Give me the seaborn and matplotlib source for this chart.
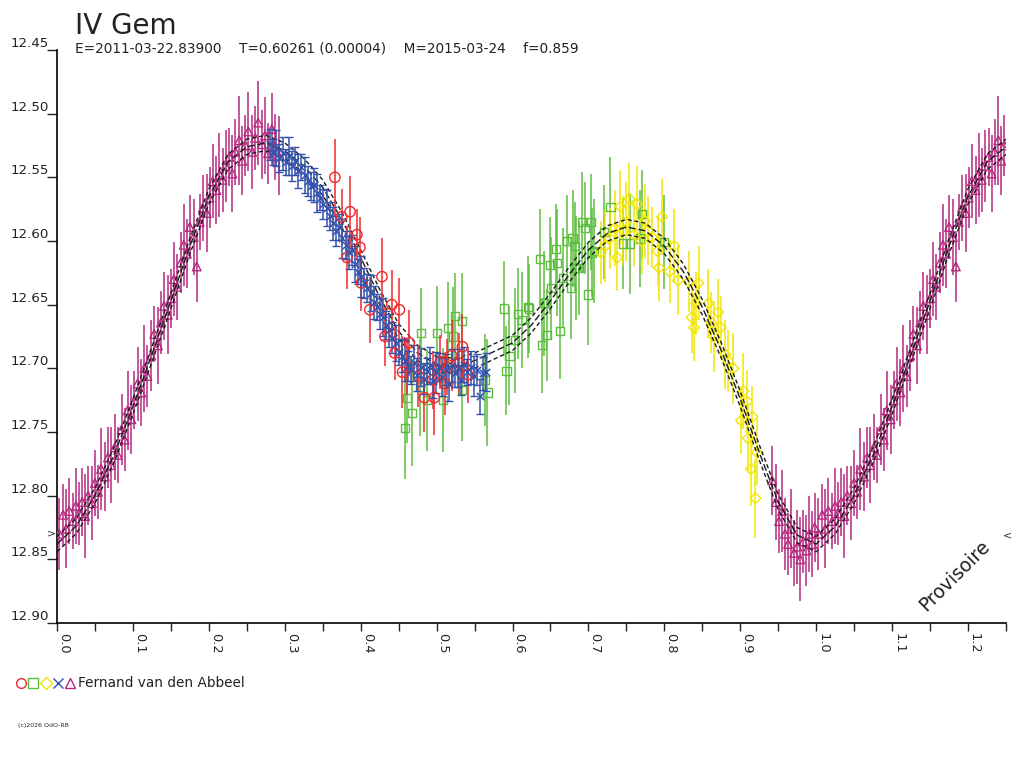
import numpy as np
import pandas as pd
import matplotlib
matplotlib.use("Agg")
import matplotlib.pyplot as plt
from matplotlib.lines import Line2D
import seaborn as sns

# light curve of IV Gem, phase vs magnitude, one observer, five sessions

title = "IV Gem"
subtitle = "E=2011-03-22.83900    T=0.60261 (0.00004)    M=2015-03-24    f=0.859"
observer = "Fernand van den Abbeel"

# session 1 - red circles
red_phase = [0.366, 0.375, 0.382, 0.386, 0.395, 0.399, 0.401, 0.412, 0.428, 0.432,
             0.441, 0.445, 0.451, 0.455, 0.461, 0.464, 0.476, 0.484, 0.495, 0.497,
             0.505, 0.511, 0.514, 0.520, 0.530, 0.534, 0.541]
red_mag = [12.550, 12.581, 12.613, 12.577, 12.595, 12.605, 12.633, 12.654, 12.628, 12.675,
           12.650, 12.688, 12.654, 12.703, 12.699, 12.680, 12.706, 12.723, 12.709, 12.723,
           12.695, 12.712, 12.699, 12.690, 12.696, 12.683, 12.705]
red_err = [0.030, 0.022, 0.025, 0.028, 0.020, 0.024, 0.022, 0.026, 0.030, 0.023,
           0.027, 0.021, 0.025, 0.028, 0.022, 0.026, 0.024, 0.027, 0.023, 0.029,
           0.021, 0.025, 0.022, 0.028, 0.024, 0.026, 0.022]

# session 2 - green squares
green_phase = [0.458, 0.461, 0.467, 0.478, 0.480, 0.487, 0.500, 0.508, 0.515, 0.521,
               0.524, 0.533, 0.534, 0.564, 0.567, 0.589, 0.592, 0.596, 0.603, 0.607,
               0.612, 0.620, 0.622, 0.636, 0.639, 0.642, 0.646, 0.649, 0.651, 0.657,
               0.659, 0.663, 0.666, 0.672, 0.677, 0.679, 0.682, 0.684, 0.687, 0.691,
               0.695, 0.699, 0.703, 0.705, 0.707, 0.720, 0.729, 0.745, 0.755, 0.768,
               0.771, 0.800]
green_mag = [12.747, 12.723, 12.735, 12.715, 12.672, 12.725, 12.672, 12.725, 12.668, 12.675,
             12.659, 12.663, 12.717, 12.709, 12.719, 12.653, 12.702, 12.690, 12.678, 12.657,
             12.662, 12.652, 12.653, 12.614, 12.682, 12.649, 12.674, 12.619, 12.637, 12.606,
             12.617, 12.671, 12.629, 12.600, 12.637, 12.598, 12.604, 12.621, 12.621, 12.585,
             12.590, 12.642, 12.585, 12.609, 12.608, 12.593, 12.573, 12.602, 12.602, 12.598,
             12.579, 12.601]
green_err = [0.040, 0.036, 0.042, 0.038, 0.035, 0.040, 0.037, 0.041, 0.036, 0.039,
             0.034, 0.038, 0.040, 0.036, 0.042, 0.037, 0.035, 0.039, 0.041, 0.036,
             0.038, 0.040, 0.035, 0.039, 0.037, 0.041, 0.036, 0.038, 0.040, 0.035,
             0.042, 0.037, 0.039, 0.036, 0.040, 0.038, 0.035, 0.041, 0.037, 0.039,
             0.036, 0.040, 0.038, 0.035, 0.041, 0.037, 0.039, 0.036, 0.040, 0.038,
             0.035, 0.037]

# session 3 - yellow diamonds
yellow_phase = [0.716, 0.722, 0.728, 0.735, 0.738, 0.742, 0.746, 0.750, 0.754, 0.760,
                0.764, 0.770, 0.774, 0.778, 0.784, 0.791, 0.793, 0.797, 0.807, 0.813,
                0.818, 0.832, 0.836, 0.839, 0.842, 0.845, 0.858, 0.862, 0.865, 0.871,
                0.874, 0.880, 0.884, 0.891, 0.901, 0.904, 0.909, 0.910, 0.914, 0.916,
                0.920, 0.922]
yellow_mag = [12.609, 12.604, 12.598, 12.590, 12.613, 12.573, 12.592, 12.585, 12.567, 12.595,
              12.571, 12.600, 12.584, 12.592, 12.597, 12.608, 12.621, 12.581, 12.624, 12.604,
              12.631, 12.632, 12.660, 12.668, 12.649, 12.633, 12.649, 12.664, 12.675, 12.656,
              12.668, 12.689, 12.694, 12.700, 12.741, 12.718, 12.726, 12.755, 12.779, 12.738,
              12.802, 12.766]
yellow_err = [0.025, 0.028, 0.024, 0.030, 0.026, 0.029, 0.027, 0.031, 0.028, 0.025,
              0.030, 0.026, 0.029, 0.027, 0.024, 0.028, 0.026, 0.030, 0.025, 0.029,
              0.027, 0.024, 0.028, 0.026, 0.025, 0.029, 0.027, 0.024, 0.028, 0.026,
              0.025, 0.027, 0.024, 0.028, 0.026, 0.030, 0.025, 0.027, 0.029, 0.024,
              0.031, 0.026]

# session 4 - blue crosses
blue_phase = [0.280, 0.285, 0.289, 0.293, 0.297, 0.301, 0.305, 0.309, 0.313, 0.318,
              0.322, 0.326, 0.330, 0.334, 0.338, 0.342, 0.346, 0.351, 0.355, 0.359,
              0.363, 0.367, 0.371, 0.375, 0.380, 0.384, 0.388, 0.392, 0.396, 0.400,
              0.404, 0.408, 0.413, 0.417, 0.421, 0.425, 0.429, 0.433, 0.437, 0.441,
              0.446, 0.450, 0.454, 0.458, 0.462, 0.466, 0.470, 0.474, 0.479, 0.483,
              0.487, 0.491, 0.495, 0.499, 0.503, 0.507, 0.512, 0.516, 0.520, 0.524,
              0.528, 0.532, 0.536, 0.540, 0.545, 0.549, 0.553, 0.557, 0.561, 0.565]
blue_mag = [12.524, 12.530, 12.527, 12.535, 12.531, 12.538, 12.533, 12.541, 12.537, 12.545,
            12.542, 12.548, 12.553, 12.557, 12.556, 12.562, 12.566, 12.571, 12.574, 12.580,
            12.586, 12.592, 12.589, 12.598, 12.603, 12.609, 12.607, 12.618, 12.624, 12.628,
            12.633, 12.637, 12.641, 12.648, 12.652, 12.657, 12.660, 12.666, 12.670, 12.676,
            12.680, 12.687, 12.690, 12.694, 12.698, 12.701, 12.696, 12.705, 12.699, 12.708,
            12.702, 12.697, 12.710, 12.703, 12.699, 12.707, 12.701, 12.712, 12.698, 12.704,
            12.700, 12.709, 12.697, 12.703, 12.699, 12.706, 12.701, 12.722, 12.704, 12.703]
blue_err = [0.012, 0.010, 0.014, 0.011, 0.013, 0.010, 0.015, 0.012, 0.011, 0.013,
            0.010, 0.014, 0.012, 0.011, 0.013, 0.015, 0.010, 0.012, 0.014, 0.011,
            0.013, 0.012, 0.010, 0.015, 0.011, 0.013, 0.012, 0.014, 0.010, 0.016,
            0.012, 0.011, 0.014, 0.013, 0.010, 0.012, 0.015, 0.011, 0.013, 0.012,
            0.014, 0.010, 0.013, 0.016, 0.012, 0.011, 0.014, 0.013, 0.015, 0.012,
            0.010, 0.014, 0.013, 0.016, 0.011, 0.015, 0.012, 0.014, 0.013, 0.011,
            0.015, 0.012, 0.014, 0.010, 0.013, 0.016, 0.012, 0.014, 0.013, 0.015]

# session 5 - magenta triangles
mag_phase = [0.003, 0.008, 0.012, 0.016, 0.021, 0.025, 0.029, 0.033, 0.037, 0.041,
             0.046, 0.050, 0.054, 0.058, 0.063, 0.067, 0.071, 0.076, 0.080, 0.085,
             0.089, 0.093, 0.098, 0.102, 0.106, 0.111, 0.115, 0.119, 0.124, 0.128,
             0.133, 0.137, 0.141, 0.146, 0.150, 0.154, 0.158, 0.163, 0.167, 0.171,
             0.175, 0.180, 0.184, 0.188, 0.192, 0.197, 0.201, 0.205, 0.210, 0.214,
             0.218, 0.222, 0.227, 0.231, 0.235, 0.240, 0.244, 0.248, 0.252, 0.257,
             0.261, 0.265, 0.270, 0.274, 0.278, 0.283, 0.287, 0.292,
             0.942, 0.947, 0.951, 0.955, 0.959, 0.963, 0.967, 0.971, 0.975, 0.979,
             0.983, 0.987, 0.991, 0.995, 0.998]
mag_mag = [12.830, 12.815, 12.826, 12.812, 12.820, 12.808, 12.814, 12.805, 12.816, 12.800,
           12.806, 12.790, 12.797, 12.779, 12.785, 12.770, 12.776, 12.762, 12.768, 12.748,
           12.756, 12.733, 12.740, 12.725, 12.712, 12.719, 12.700, 12.706, 12.690, 12.673,
           12.682, 12.664, 12.651, 12.658, 12.645, 12.630, 12.636, 12.617, 12.603, 12.610,
           12.589, 12.597, 12.620, 12.585, 12.574, 12.578, 12.566, 12.553, 12.560, 12.548,
           12.552, 12.541, 12.534, 12.547, 12.530, 12.521, 12.537, 12.525, 12.514, 12.530,
           12.519, 12.507, 12.524, 12.517, 12.531, 12.512, 12.526, 12.533,
           12.788, 12.805, 12.820, 12.812, 12.830, 12.838, 12.826, 12.845, 12.840, 12.850,
           12.836, 12.843, 12.830, 12.838, 12.825]
mag_err = [0.028, 0.024, 0.031, 0.026, 0.022, 0.030, 0.025, 0.027, 0.033, 0.023,
           0.029, 0.026, 0.021, 0.032, 0.027, 0.024, 0.030, 0.026, 0.022, 0.028,
           0.025, 0.031, 0.027, 0.023, 0.029, 0.026, 0.034, 0.024, 0.028, 0.022,
           0.030, 0.025, 0.027, 0.031, 0.023, 0.029, 0.026, 0.024, 0.032, 0.027,
           0.025, 0.030, 0.028, 0.022, 0.026, 0.031, 0.024, 0.029, 0.027, 0.033,
           0.025, 0.028, 0.023, 0.030, 0.026, 0.035, 0.027, 0.024, 0.031, 0.029,
           0.025, 0.033, 0.027, 0.030, 0.024, 0.028, 0.026, 0.031,
           0.027, 0.030, 0.025, 0.032, 0.028, 0.024, 0.031, 0.026, 0.029, 0.033,
           0.025, 0.028, 0.030, 0.026, 0.027]

# fitted mean light curve (read at 0.025 steps) and its band
fit_phase = [0.000, 0.025, 0.050, 0.075, 0.100, 0.125, 0.150, 0.175, 0.200, 0.225,
             0.250, 0.275, 0.300, 0.325, 0.350, 0.375, 0.400, 0.425, 0.450, 0.475,
             0.500, 0.525, 0.550, 0.575, 0.600, 0.625, 0.650, 0.675, 0.700, 0.725,
             0.750, 0.775, 0.800, 0.825, 0.850, 0.875, 0.900, 0.925, 0.950, 0.975, 1.000]
fit_mag = [12.838, 12.824, 12.800, 12.768, 12.730, 12.689, 12.647, 12.604, 12.565, 12.538,
           12.526, 12.523, 12.529, 12.541, 12.558, 12.583, 12.613, 12.644, 12.671, 12.688,
           12.697, 12.698, 12.694, 12.687, 12.680, 12.666, 12.647, 12.626, 12.607, 12.594,
           12.589, 12.592, 12.604, 12.624, 12.652, 12.686, 12.724, 12.766, 12.805, 12.831, 12.838]
fit_band = 0.006

y_ticks = [12.45, 12.50, 12.55, 12.60, 12.65, 12.70, 12.75, 12.80, 12.85, 12.90]
x_ticks = [0.0, 0.1, 0.2, 0.3, 0.4, 0.5, 0.6, 0.7, 0.8, 0.9, 1.0, 1.1, 1.2]


def fold(phase, mag, err=None):
    # show the first quarter of the cycle again after phase 1
    df = pd.DataFrame({"phase": phase, "mag": mag})
    if err is not None:
        df["err"] = err
    extra = df[df["phase"] <= 0.25].copy()
    extra["phase"] = extra["phase"] + 1
    return pd.concat([df, extra], ignore_index=True)


sns.set_style("white")
plt.rcParams["font.family"] = ["DejaVu Sans"]

fig = plt.figure(figsize=(10.24, 7.68), dpi=100)
ax = fig.add_axes([0.0557, 0.1888, 0.9267, 0.7461])

series = [
    (mag_phase, mag_mag, mag_err, "#b4287f", "^", 38),
    (green_phase, green_mag, green_err, "#5ebd3e", "s", 34),
    (yellow_phase, yellow_mag, yellow_err, "#f2e600", "D", 30),
]
for ph, mg, er, col, mk, size in series:
    d = fold(ph, mg, er)
    ax.errorbar(d["phase"], d["mag"], yerr=d["err"], fmt="none", ecolor=col, elinewidth=1.1)
    sns.scatterplot(data=d, x="phase", y="mag", ax=ax, marker=mk, s=size,
                    facecolors="none", edgecolors=col, linewidth=1.0, zorder=3)

# fitted curve with its band
fit = fold(fit_phase, fit_mag)
for off, dash in [(-fit_band, (0, (3, 2))), (0.0, (0, (5, 2))), (fit_band, (0, (3, 2)))]:
    sns.lineplot(x=fit["phase"], y=fit["mag"] + off, ax=ax, color="#1a1a1a", lw=1.0,
                 linestyle=dash, sort=False, estimator=None, zorder=4)

for ph, mg, er, col, mk, size in [
    (red_phase, red_mag, red_err, "#f02828", "o", 55),
    (blue_phase, blue_mag, blue_err, "#3553ad", "x", 28),
]:
    d = fold(ph, mg, er)
    ax.errorbar(d["phase"], d["mag"], yerr=d["err"], fmt="none", ecolor=col,
                elinewidth=1.1, capsize=3 if mk == "x" else 0, capthick=1, zorder=5)
    if mk == "x":
        sns.scatterplot(data=d, x="phase", y="mag", ax=ax, marker=mk, s=size,
                        color=col, linewidth=1.1, zorder=6)
    else:
        sns.scatterplot(data=d, x="phase", y="mag", ax=ax, marker=mk, s=size,
                        facecolors="none", edgecolors=col, linewidth=1.0, zorder=6)

ax.set_xlim(0, 1.25)
ax.set_ylim(12.90, 12.45)
ax.set_yticks(y_ticks)
ax.set_yticklabels(["%.2f" % v for v in y_ticks])
ax.set_xticks(x_ticks)
ax.set_xticklabels(["%.1f" % v for v in x_ticks])
ax.set_xticks(np.arange(0.05, 1.26, 0.1), minor=True)
ax.set_xlabel("")
ax.set_ylabel("")

for side in ["top", "right"]:
    ax.spines[side].set_visible(False)
for side in ["left", "bottom"]:
    ax.spines[side].set_color("black")
    ax.spines[side].set_linewidth(1.2)

ax.tick_params(axis="y", direction="out", length=7, width=1, pad=-1, labelsize=9.6,
               colors="#222222", left=True)
ax.tick_params(axis="x", which="both", direction="out", length=6, width=1, colors="#222222",
               bottom=True)
ax.tick_params(axis="x", labelsize=9.3, pad=1)
for lab in ax.get_yticklabels():
    lab.set_verticalalignment("bottom")
for lab in ax.get_xticklabels():
    lab.set_rotation(-90)
    lab.set_horizontalalignment("left")
    lab.set_verticalalignment("top")

# header
fig.text(75 / 1024, 1 - 34 / 768, title, fontsize=20, va="baseline", ha="left", color="#222222")
fig.text(75 / 1024, 1 - 48 / 768, subtitle, fontsize=9.8, va="center", ha="left", color="#222222")

# mean level arrows and watermark
fig.text(52 / 1024, 1 - 533 / 768, ">", fontsize=8, ha="center", va="center", color="#333333")
fig.text(1008 / 1024, 1 - 535 / 768, "<", fontsize=8, ha="center", va="center", color="#333333")
fig.text(955 / 1024, 1 - 576 / 768, "Provisoire", fontsize=13.5, rotation=45,
         ha="center", va="center", color="#222222")

# legend row under the plot
leg_y = 1 - 683 / 768
leg_items = [("o", "#f02828"), ("s", "#5ebd3e"), ("D", "#f2e600"), ("x", "#3553ad"), ("^", "#b4287f")]
for i, (mk, col) in enumerate(leg_items):
    fig.add_artist(Line2D([(21 + 12.3 * i) / 1024], [leg_y], marker=mk, ms=7 if mk != "D" else 6,
                          mfc="none", mec=col, color=col, mew=1.0, ls="none"))
fig.text(78 / 1024, leg_y, observer, fontsize=9.8, va="center", ha="left", color="#222222")
fig.text(18 / 1024, 1 - 725 / 768, "(c)2026 OdO-RB", fontsize=4.5, va="center", ha="left")

fig.savefig("out.png", dpi=100)
